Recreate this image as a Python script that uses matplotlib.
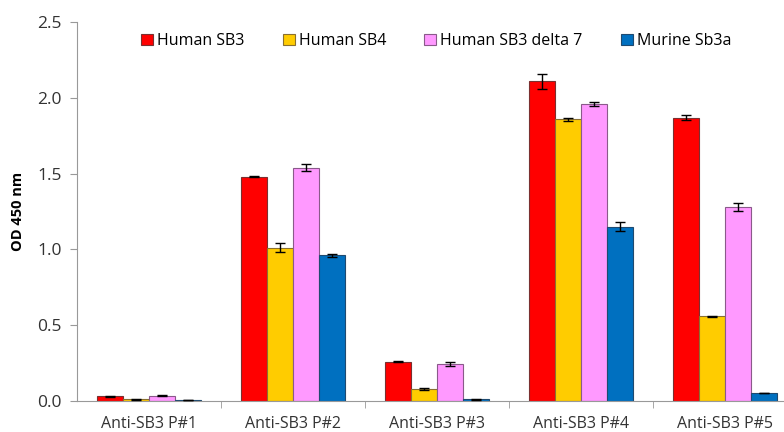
import matplotlib.pyplot as plt
import numpy as np
from matplotlib.patches import Patch

groups = ["Anti-SB3 P#1", "Anti-SB3 P#2", "Anti-SB3 P#3", "Anti-SB3 P#4", "Anti-SB3 P#5"]
series = ["Human SB3", "Human SB4", "Human SB3 delta 7", "Murine Sb3a"]

human_sb3 = [0.03, 1.48, 0.26, 2.11, 1.87]
human_sb4 = [0.01, 1.01, 0.08, 1.86, 0.56]
human_sb3_d7 = [0.035, 1.54, 0.245, 1.96, 1.28]
murine_sb3a = [0.005, 0.96, 0.01, 1.15, 0.053]

err_sb3 = [0.004, 0.005, 0.005, 0.05, 0.015]
err_sb4 = [0.005, 0.03, 0.008, 0.01, 0.004]
err_sb3_d7 = [0.005, 0.025, 0.015, 0.015, 0.025]
err_murine = [0.0, 0.008, 0.003, 0.03, 0.0]

colors = ["#FF0000", "#FFCC00", "#FF99FF", "#0070C0"]
edges = ["#7a3030", "#8a7030", "#8a5a8a", "#1f4a70"]

plt.rcParams["font.family"] = ["Open Sans", "DejaVu Sans"]

fig = plt.figure(figsize=(7.84, 4.32), dpi=100)
ax = fig.add_axes([0.0982, 0.0718, 0.9184, 0.877])

values = [human_sb3, human_sb4, human_sb3_d7, murine_sb3a]
errors = [err_sb3, err_sb4, err_sb3_d7, err_murine]
x = np.arange(len(groups))
width = 0.182
for i, (vals, errs) in enumerate(zip(values, errors)):
    pos = x + (i - 1.5) * width
    ax.bar(pos, vals, width, color=colors[i], edgecolor=edges[i], linewidth=0.8, zorder=2)
    ax.errorbar(pos, vals, yerr=errs, fmt="none", ecolor="black", elinewidth=1,
                capsize=3.5, capthick=1, zorder=3)

ax.set_xlim(-0.5, 4.5)
ax.set_ylim(0, 2.5)
ax.set_yticks([0, 0.5, 1.0, 1.5, 2.0, 2.5])
ax.set_yticklabels(["0.0", "0.5", "1.0", "1.5", "2.0", "2.5"])
ax.set_xticks(x)
ax.set_xticklabels(groups)
# small separators between the sample groups
ax.set_xticks(np.arange(0.5, 4.5, 1), minor=True)
ax.tick_params(axis="x", which="major", length=0, pad=11, labelsize=11.5, colors="#333333")
ax.tick_params(axis="x", which="minor", length=5, color="#999999", direction="out")
ax.tick_params(axis="y", length=5, labelsize=12.5, colors="#333333", pad=6)
ax.tick_params(axis="y", color="#999999")

for side in ["top", "right"]:
    ax.spines[side].set_visible(False)
for side in ["left", "bottom"]:
    ax.spines[side].set_color("#999999")

ax.set_ylabel("OD 450 nm", fontsize=10.5, fontweight="bold", labelpad=9)

handles = [Patch(facecolor=c, edgecolor=e, linewidth=0.8) for c, e in zip(colors, edges)]
fig.legend(handles, series, loc="center left", bbox_to_anchor=(141 / 784, 0.905), ncol=4,
           frameon=False, fontsize=11.5, handlelength=0.75, handleheight=0.75,
           handletextpad=0.25, columnspacing=2.4, borderpad=0, borderaxespad=0)

fig.savefig("out.png", dpi=100)
